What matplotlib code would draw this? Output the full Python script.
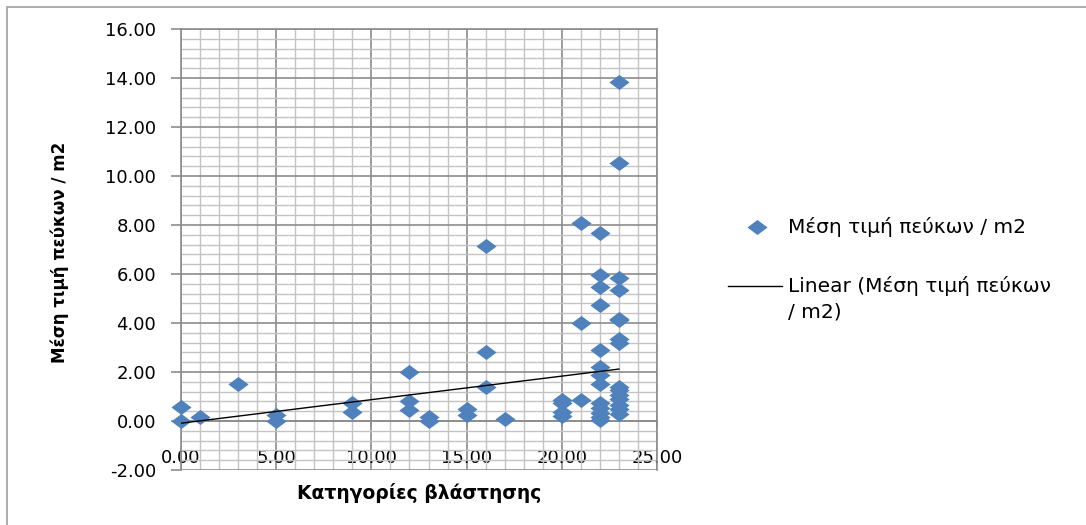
"""Scatter of pine cone density per vegetation category with a linear trend."""

# === DECLARE IMPORTS ===

import matplotlib

matplotlib.use("Agg")

import matplotlib.pyplot as plt
from matplotlib.lines import Line2D
from matplotlib.patches import Rectangle
from matplotlib.ticker import FormatStrFormatter, MultipleLocator

# === DECLARE DATA ===

# Vegetation category (x) for every point.
categories = [
    0, 0,
    1,
    3,
    5, 5,
    9, 9,
    12, 12, 12,
    13, 13,
    15, 15,
    16, 16, 16,
    17,
    20, 20, 20, 20,
    21, 21, 21,
    22, 22, 22, 22, 22, 22, 22, 22, 22, 22, 22, 22, 22,
    23, 23, 23, 23, 23, 23, 23, 23, 23, 23, 23, 23, 23, 23, 23,
]

# Mean number of pine cones per m2 (y) for every point.
cones_per_m2 = [
    0.58, 0.00,
    0.16,
    1.52,
    0.24, 0.02,
    0.72, 0.38,
    2.02, 0.80, 0.45,
    0.16, 0.02,
    0.48, 0.24,
    7.15, 2.83, 1.38,
    0.07,
    0.86, 0.75, 0.35, 0.22,
    8.10, 3.98, 0.84,
    7.68, 5.95, 5.48, 4.74, 2.90, 2.22, 1.88, 1.50, 0.75, 0.52, 0.32, 0.18, 0.04,
    13.82, 10.55, 5.85, 5.33, 4.18, 4.12, 3.33, 3.18, 1.40, 1.25, 1.08, 0.88,
    0.65, 0.50, 0.30,
]

# Excel linear trendline at its two ends.
trend_x = [0, 23]
trend_y = [-0.09, 2.12]

series_label = "Μέση τιμή πεύκων / m2"
trend_label = ["Linear (Μέση τιμή πεύκων", "/ m2)"]
x_label = "Κατηγορίες βλάστησης"
y_label = "Μέση τιμή πεύκων / m2"

# === STYLE ===

BLUE = "#4F81BD"
MAJOR_GRID = "#8C8C8C"
MINOR_GRID = "#C3C3C3"

plt.rcParams["font.family"] = ["DejaVu Sans"]

# Wide diamond, like the Excel marker in the reference.
diamond = [(-1, 0), (0, 0.75), (1, 0), (0, -0.75), (-1, 0)]

# === BUILD FIGURE ===

figure = plt.figure(figsize=(10.86, 5.25), dpi=100)
axis = figure.add_axes([181 / 1086, 55 / 525, 476 / 1086, 441 / 525])

# Chart area border (only top and left edges are visible in the picture).
figure.add_artist(
    Rectangle(
        (7 / 1086, -0.1), 1.5, 0.1 + 1 - 7 / 525,
        transform=figure.transFigure, fill=False,
        edgecolor="#A0A0A0", linewidth=1.2, clip_on=False,
    )
)

# Scatter points (not clipped, so the ones on x = 0 stay whole).
axis.plot(
    categories, cones_per_m2,
    linestyle="none", marker=diamond, markersize=14.5,
    markerfacecolor=BLUE, markeredgewidth=0, zorder=3, clip_on=False,
)

# Linear trend line.
axis.plot(trend_x, trend_y, color="black", linewidth=1.0, zorder=4)

# Axis ranges and ticks.
axis.set_xlim(0, 25)
axis.set_ylim(-2, 16)
axis.xaxis.set_major_locator(MultipleLocator(5))
axis.xaxis.set_minor_locator(MultipleLocator(1))
axis.yaxis.set_major_locator(MultipleLocator(2))
axis.yaxis.set_minor_locator(MultipleLocator(0.4))
axis.xaxis.set_major_formatter(FormatStrFormatter("%.2f"))
axis.yaxis.set_major_formatter(FormatStrFormatter("%.2f"))

axis.grid(True, which="major", color=MAJOR_GRID, linewidth=1.2, zorder=0)
axis.grid(True, which="minor", color=MINOR_GRID, linewidth=1.0, zorder=0)
axis.set_axisbelow(True)

# The x axis crosses at y = 0, like in Excel.
axis.spines["bottom"].set_position(("data", 0))
for name in ["left", "bottom", "right", "top"]:
    axis.spines[name].set_color(MAJOR_GRID)
    axis.spines[name].set_linewidth(1.2)

axis.tick_params(axis="y", which="major", length=7, width=1.2, color=MAJOR_GRID,
                 pad=11, labelsize=13, labelcolor="black")
axis.tick_params(axis="x", which="major", length=4, width=1.2, color=MAJOR_GRID,
                 pad=16, labelsize=13, labelcolor="black")
axis.tick_params(which="minor", length=0)

# Axis titles.
figure.text(419 / 1086, 1 - 493 / 525, x_label, ha="center", va="center",
            fontsize=13.5, fontweight="bold")
figure.text(60 / 1086, 1 - 252 / 525, y_label, ha="center", va="center",
            rotation=90, fontsize=12, fontweight="bold")

# === LEGEND (drawn by hand to match the Excel layout) ===

figure.add_artist(
    Line2D([757 / 1086], [1 - 227 / 525], transform=figure.transFigure,
           linestyle="none", marker=diamond, markersize=14.5,
           markerfacecolor=BLUE, markeredgewidth=0)
)
figure.text(788 / 1086, 1 - 227 / 525, series_label, ha="left", va="center",
            fontsize=14.5)

figure.add_artist(
    Line2D([728 / 1086, 782 / 1086], [1 - 286 / 525, 1 - 286 / 525],
           transform=figure.transFigure, color="black", linewidth=1.0)
)
figure.text(788 / 1086, 1 - 286 / 525, trend_label[0], ha="left", va="center",
            fontsize=14.5)
figure.text(788 / 1086, 1 - 312 / 525, trend_label[1], ha="left", va="center",
            fontsize=14.5)

figure.savefig("out.png", dpi=100)
